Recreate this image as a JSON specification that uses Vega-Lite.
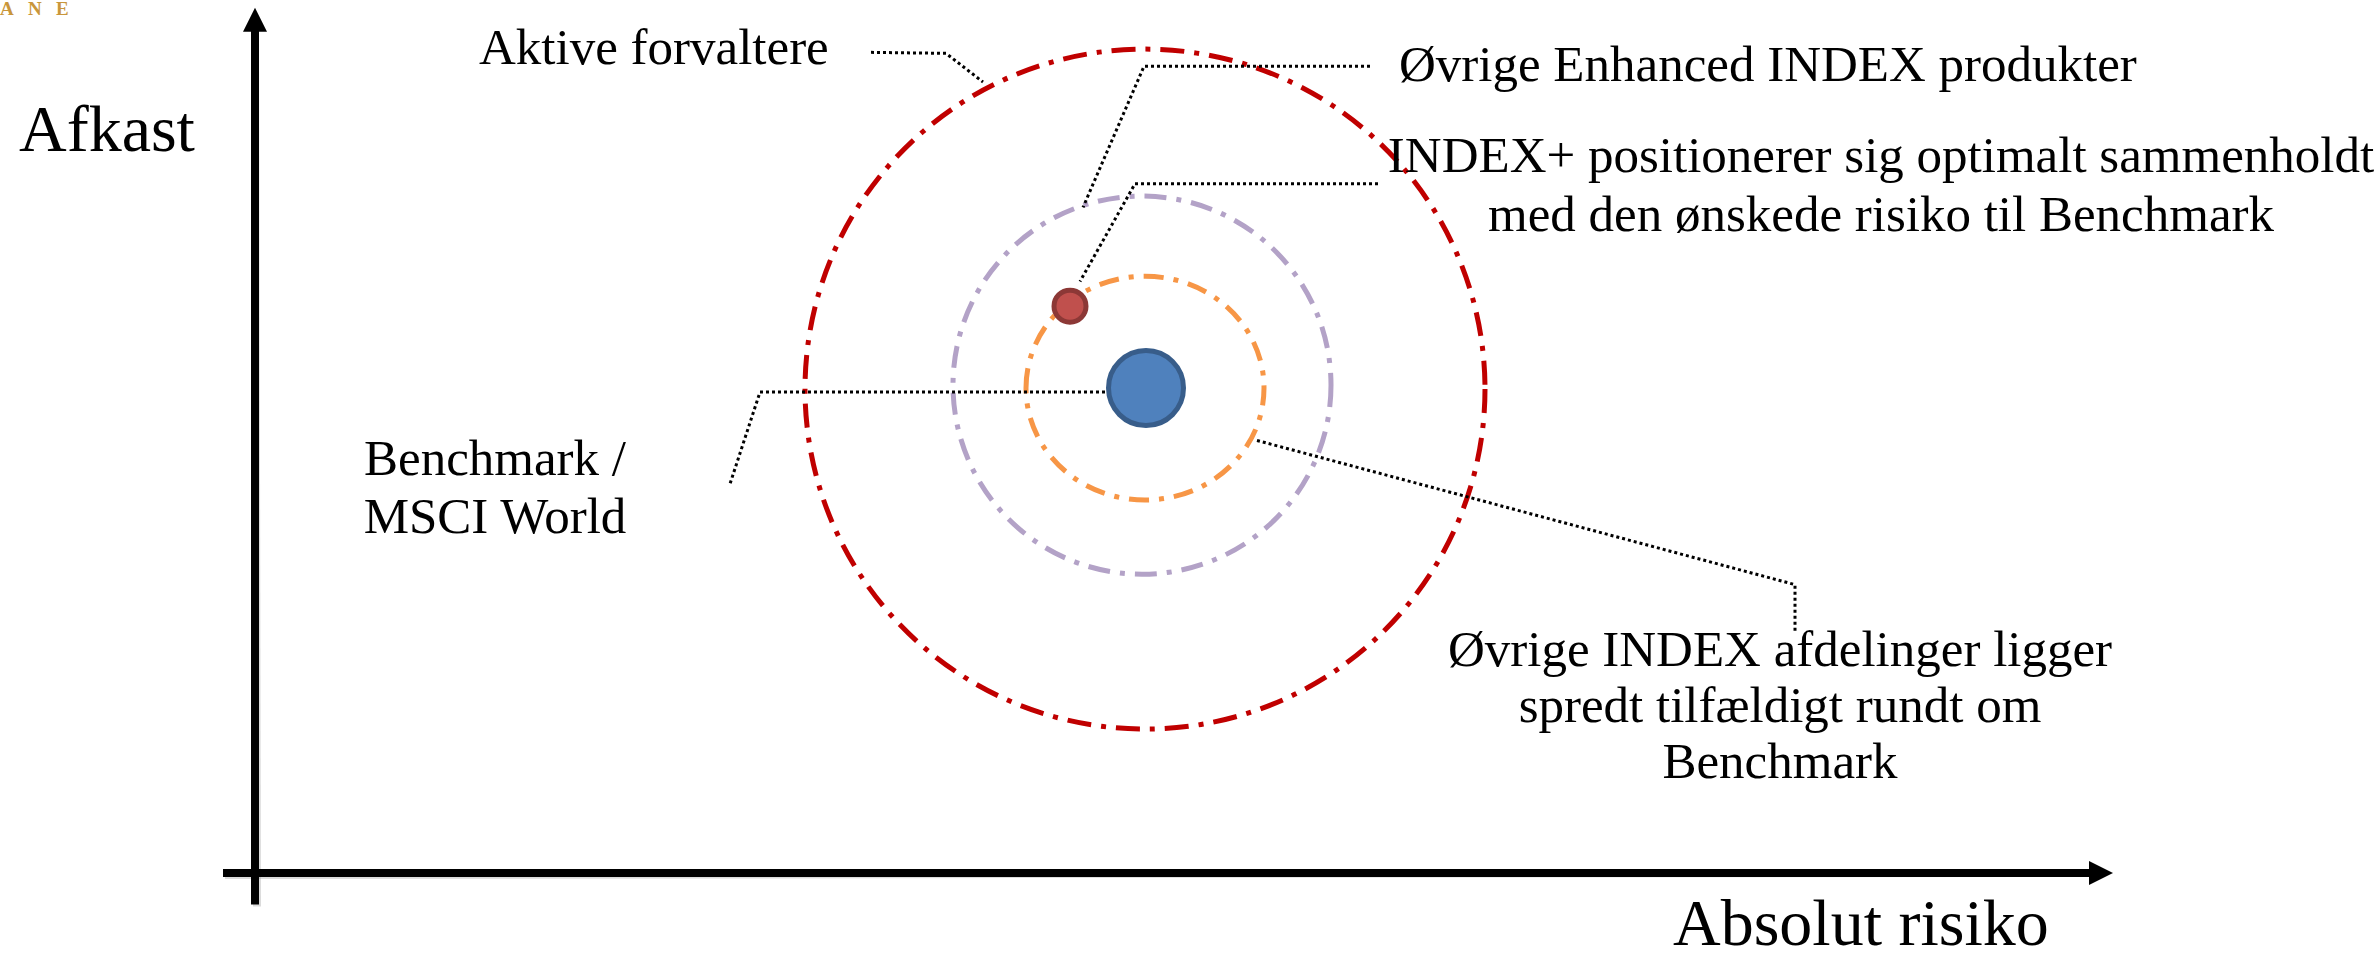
{
  "$schema": "https://vega.github.io/schema/vega-lite/v6.json",
  "width": 2379,
  "height": 958,
  "autosize": {"type": "fit", "contains": "padding"},
  "padding": 0,
  "background": "white",
  "config": {"view": {"stroke": null}},
  "datasets": {
    "axes": [
      {"axis": "Absolut risiko", "x": 223, "y": 881, "x2": 2090, "y2": 881},
      {"axis": "Afkast", "x": 255, "y": 913, "x2": 255, "y2": 26}
    ],
    "arrowheads": [
      {"axis": "Afkast", "x": 255, "y": 17},
      {"axis": "Absolut risiko", "x": 2101, "y": 881}
    ],
    "rings": [
      {"ring": "Aktive forvaltere", "x": 1145, "y": 391, "r": 340},
      {"ring": "Øvrige Enhanced INDEX produkter", "x": 1142, "y": 387, "r": 189},
      {"ring": "Øvrige INDEX afdelinger", "x": 1145, "y": 390, "r": 119}
    ],
    "dots": [
      {"name": "Benchmark / MSCI World", "x": 1146, "y": 390, "r": 37.5},
      {"name": "INDEX+", "x": 1070, "y": 307, "r": 16}
    ],
    "leaders": [
      {"id": "Aktive forvaltere", "o": 1, "x": 871, "y": 50},
      {"id": "Aktive forvaltere", "o": 2, "x": 946, "y": 51},
      {"id": "Aktive forvaltere", "o": 3, "x": 983, "y": 80},
      {"id": "Øvrige Enhanced INDEX produkter", "o": 1, "x": 1370, "y": 64},
      {"id": "Øvrige Enhanced INDEX produkter", "o": 2, "x": 1144, "y": 64},
      {"id": "Øvrige Enhanced INDEX produkter", "o": 3, "x": 1083, "y": 207},
      {"id": "INDEX+", "o": 1, "x": 1378, "y": 183},
      {"id": "INDEX+", "o": 2, "x": 1135, "y": 183},
      {"id": "INDEX+", "o": 3, "x": 1080, "y": 282},
      {"id": "Benchmark", "o": 1, "x": 1105, "y": 394},
      {"id": "Benchmark", "o": 2, "x": 760, "y": 394},
      {"id": "Benchmark", "o": 3, "x": 730, "y": 487},
      {"id": "Øvrige INDEX afdelinger", "o": 1, "x": 1257, "y": 443},
      {"id": "Øvrige INDEX afdelinger", "o": 2, "x": 1795, "y": 589},
      {"id": "Øvrige INDEX afdelinger", "o": 3, "x": 1795, "y": 636}
    ],
    "titles": [
      {"text": "Afkast", "x": 19, "y": 150},
      {"text": "Absolut risiko", "x": 1673, "y": 954}
    ],
    "leftLabels": [
      {"text": "Aktive forvaltere", "x": 479, "y": 62},
      {"text": "Øvrige Enhanced INDEX produkter", "x": 1399, "y": 79}
    ],
    "centerLabels": [
      {"text": "INDEX+ positionerer sig optimalt sammenholdt", "x": 1881, "y": 171},
      {"text": "med den ønskede risiko til Benchmark", "x": 1881, "y": 231},
      {"text": "Benchmark /", "x": 495, "y": 478},
      {"text": "MSCI World", "x": 495, "y": 537},
      {"text": "Øvrige INDEX afdelinger ligger", "x": 1780, "y": 671},
      {"text": "spredt tilfældigt rundt om", "x": 1780, "y": 728},
      {"text": "Benchmark", "x": 1780, "y": 785}
    ],
    "logo": [
      {"text": "A\u00a0\u00a0\u00a0N\u00a0\u00a0\u00a0E", "x": 0, "y": 12}
    ]
  },
  "encoding": {
    "x": {"field": "x", "type": "quantitative", "scale": {"domain": [0, 2379], "nice": false, "zero": false}, "axis": null},
    "y": {"field": "y", "type": "quantitative", "scale": {"domain": [0, 958], "nice": false, "zero": false, "reverse": true}, "axis": null}
  },
  "layer": [
    {
      "data": {"name": "rings"},
      "transform": [{"filter": "datum.ring == 'Aktive forvaltere'"}],
      "mark": {"type": "point", "shape": "circle", "filled": false, "stroke": "#C00000", "strokeWidth": 5, "strokeDash": [24, 10, 5, 10], "opacity": 1},
      "encoding": {"size": {"field": "r", "type": "quantitative", "scale": {"type": "pow", "exponent": 2, "domain": [0, 400], "range": [0, 640000]}, "legend": null}}
    },
    {
      "data": {"name": "rings"},
      "transform": [{"filter": "datum.ring == 'Øvrige Enhanced INDEX produkter'"}],
      "mark": {"type": "point", "shape": "circle", "filled": false, "stroke": "#B3A2C7", "strokeWidth": 5, "strokeDash": [22, 10, 5, 10], "opacity": 1},
      "encoding": {"size": {"field": "r", "type": "quantitative", "scale": {"type": "pow", "exponent": 2, "domain": [0, 400], "range": [0, 640000]}, "legend": null}}
    },
    {
      "data": {"name": "rings"},
      "transform": [{"filter": "datum.ring == 'Øvrige INDEX afdelinger'"}],
      "mark": {"type": "point", "shape": "M-1,0C-1,-0.52 -0.5523,-0.94 0,-0.94C0.5523,-0.94 1,-0.52 1,0C1,0.52 0.5523,0.94 0,0.94C-0.5523,0.94 -1,0.52 -1,0Z", "filled": false, "stroke": "#F79646", "strokeWidth": 5, "strokeDash": [20, 10, 5, 10], "opacity": 1},
      "encoding": {"size": {"field": "r", "type": "quantitative", "scale": {"type": "pow", "exponent": 2, "domain": [0, 400], "range": [0, 640000]}, "legend": null}}
    },
    {
      "data": {"name": "leaders"},
      "mark": {"type": "line", "color": "black", "strokeWidth": 3, "strokeDash": [3, 3], "strokeCap": "butt"},
      "encoding": {"detail": {"field": "id"}, "order": {"field": "o", "type": "quantitative"}}
    },
    {
      "data": {"name": "dots"},
      "transform": [{"filter": "datum.name == 'Benchmark / MSCI World'"}],
      "mark": {"type": "point", "shape": "circle", "filled": true, "fill": "#4F81BD", "stroke": "#385D8A", "strokeWidth": 5, "opacity": 1},
      "encoding": {"size": {"field": "r", "type": "quantitative", "scale": {"type": "pow", "exponent": 2, "domain": [0, 400], "range": [0, 640000]}, "legend": null}}
    },
    {
      "data": {"name": "dots"},
      "transform": [{"filter": "datum.name == 'INDEX+'"}],
      "mark": {"type": "point", "shape": "circle", "filled": true, "fill": "#C0504D", "stroke": "#8C3836", "strokeWidth": 5, "opacity": 1},
      "encoding": {"size": {"field": "r", "type": "quantitative", "scale": {"type": "pow", "exponent": 2, "domain": [0, 400], "range": [0, 640000]}, "legend": null}}
    },
    {
      "data": {"name": "axes"},
      "mark": {"type": "rule", "color": "#999999", "strokeWidth": 8, "opacity": 0.35, "xOffset": 2, "yOffset": 2},
      "encoding": {"x2": {"field": "x2"}, "y2": {"field": "y2"}}
    },
    {
      "data": {"name": "axes"},
      "mark": {"type": "rule", "color": "black", "strokeWidth": 8, "strokeCap": "butt"},
      "encoding": {"x2": {"field": "x2"}, "y2": {"field": "y2"}}
    },
    {
      "data": {"name": "arrowheads"},
      "transform": [{"filter": "datum.axis == 'Afkast'"}],
      "mark": {"type": "point", "shape": "M0,-1L1,1L-1,1Z", "filled": true, "fill": "black", "stroke": null, "size": 576, "opacity": 1}
    },
    {
      "data": {"name": "arrowheads"},
      "transform": [{"filter": "datum.axis == 'Absolut risiko'"}],
      "mark": {"type": "point", "shape": "M1,0L-1,-1L-1,1Z", "filled": true, "fill": "black", "stroke": null, "size": 576, "opacity": 1}
    },
    {
      "data": {"name": "titles"},
      "mark": {"type": "text", "font": "Liberation Serif", "fontSize": 66, "align": "left", "baseline": "alphabetic", "color": "black"},
      "encoding": {"text": {"field": "text"}}
    },
    {
      "data": {"name": "leftLabels"},
      "mark": {"type": "text", "font": "Liberation Serif", "fontSize": 51, "align": "left", "baseline": "alphabetic", "color": "black"},
      "encoding": {"text": {"field": "text"}}
    },
    {
      "data": {"name": "centerLabels"},
      "mark": {"type": "text", "font": "Liberation Serif", "fontSize": 51, "align": "center", "baseline": "alphabetic", "color": "black"},
      "encoding": {"text": {"field": "text"}}
    },
    {
      "data": {"name": "logo"},
      "mark": {"type": "text", "font": "Liberation Serif", "fontSize": 19, "fontWeight": "bold", "align": "left", "baseline": "alphabetic", "color": "#C9963B"},
      "encoding": {"text": {"field": "text"}}
    }
  ]
}
